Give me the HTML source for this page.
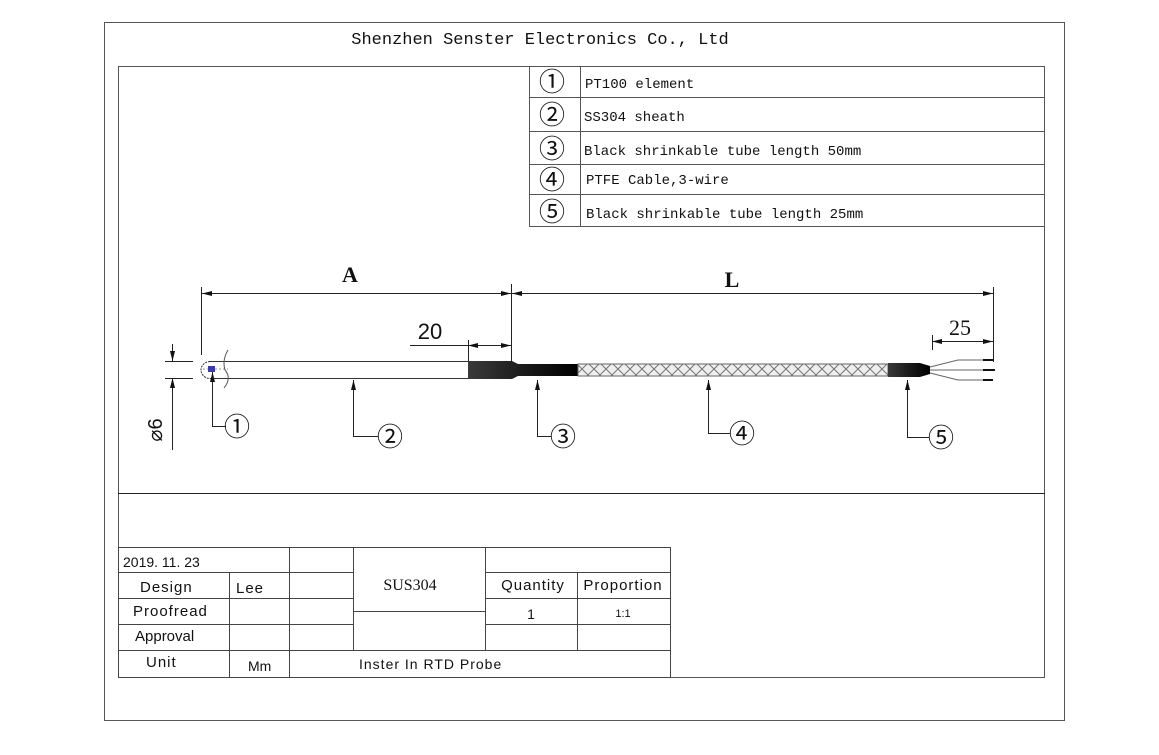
<!DOCTYPE html>
<html><head><meta charset="utf-8"><style>
html,body{margin:0;padding:0;background:#fff;}
svg text{font-family:"Liberation Mono","Noto Sans CJK SC",monospace;fill:#111;}
.s{font-family:"Liberation Sans","Noto Sans CJK SC",sans-serif !important;}
.sf{font-family:"Liberation Serif","Noto Serif CJK SC",serif !important;}
.c{font-family:"Noto Sans CJK SC",sans-serif !important;}
</style></head><body>
<svg width="1159" height="750" viewBox="0 0 1159 750" xmlns="http://www.w3.org/2000/svg">
<defs>
<marker id="ar" viewBox="0 0 10 6" refX="10" refY="3" markerWidth="10" markerHeight="6" orient="auto-start-reverse" markerUnits="userSpaceOnUse"><path d="M0,0.5 L10,3 L0,5.5z" fill="#111"/></marker>
<pattern id="br" width="12" height="12" patternUnits="userSpaceOnUse" y="363"><rect width="12" height="12" fill="#eee"/><path d="M0,0 L6,6 L12,0 M0,12 L6,6 L12,12" stroke="#777" stroke-width="1" fill="none"/></pattern>
<linearGradient id="bk" x1="0" x2="1"><stop offset="0" stop-color="#3a3a3a"/><stop offset="0.6" stop-color="#151515"/><stop offset="1" stop-color="#000"/></linearGradient>
</defs>
<g fill="none" stroke="#555" stroke-width="1">
<rect x="104.5" y="22.5" width="960" height="698"/>
<rect x="118.5" y="66.5" width="926" height="611"/>
<line x1="118" y1="493.5" x2="1045" y2="493.5" stroke="#222"/>
</g>
<text x="540" y="44" font-size="17" text-anchor="middle">Shenzhen Senster Electronics Co., Ltd</text>
<g stroke="#555" fill="none">
<rect x="529.5" y="66.5" width="515" height="160"/>
<line x1="580.5" y1="66" x2="580.5" y2="227"/>
<line x1="529" y1="97.5" x2="1045" y2="97.5"/>
<line x1="529" y1="131.5" x2="1045" y2="131.5"/>
<line x1="529" y1="164.5" x2="1045" y2="164.5"/>
<line x1="529" y1="194.5" x2="1045" y2="194.5"/>
</g>
<g font-size="26" text-anchor="middle">
<text x="552" y="91" class="c">①</text><text x="552" y="124" class="c">②</text><text x="552" y="158" class="c">③</text><text x="552" y="189" class="c">④</text><text x="552" y="221" class="c">⑤</text>
</g>
<g font-size="14">
<text x="585" y="88">PT100 element</text>
<text x="584" y="121">SS304 sheath</text>
<text x="584" y="155">Black shrinkable tube length 50mm</text>
<text x="586" y="184">PTFE Cable,3-wire</text>
<text x="586" y="218">Black shrinkable tube length 25mm</text>
</g>
<g stroke="#222" stroke-width="1" fill="none">
<line x1="201.5" y1="287" x2="201.5" y2="355"/>
<line x1="511.5" y1="284" x2="511.5" y2="366"/>
<line x1="993.5" y1="287" x2="993.5" y2="362"/>
<line x1="202" y1="293.5" x2="511" y2="293.5" marker-start="url(#ar)" marker-end="url(#ar)"/>
<line x1="512" y1="293.5" x2="993" y2="293.5" marker-start="url(#ar)" marker-end="url(#ar)"/>
<line x1="410" y1="345.5" x2="468" y2="345.5"/>
<line x1="468" y1="345.5" x2="511" y2="345.5" marker-start="url(#ar)" marker-end="url(#ar)"/>
<line x1="468.5" y1="340" x2="468.5" y2="361"/>
<line x1="932.5" y1="335" x2="932.5" y2="350"/>
<line x1="932" y1="341.5" x2="993" y2="341.5" marker-start="url(#ar)" marker-end="url(#ar)"/>
<line x1="165" y1="361.5" x2="193" y2="361.5"/>
<line x1="165" y1="378.5" x2="193" y2="378.5"/>
<line x1="172.5" y1="344" x2="172.5" y2="361" marker-end="url(#ar)"/>
<line x1="172.5" y1="450" x2="172.5" y2="378" marker-end="url(#ar)"/>
</g>
<text x="350" y="282" font-size="22" class="sf" text-anchor="middle" font-weight="bold">A</text>
<text x="732" y="287" font-size="22" class="sf" text-anchor="middle" font-weight="bold">L</text>
<text x="430" y="339" font-size="22" class="s" text-anchor="middle">20</text>
<text x="960" y="335" font-size="22" class="sf" text-anchor="middle">25</text>
<text transform="translate(162,430) rotate(-90)" font-size="20" class="s" text-anchor="middle">⌀6</text>
<path d="M210,361.5 L468,361.5 M210,378.5 L468,378.5" stroke="#333" fill="none"/>
<path d="M210,361.5 A9,8.5 0 0 0 210,378.5" stroke="#333" fill="none" stroke-dasharray="2,1"/>
<path d="M203,369 L228,369" stroke="#999" stroke-dasharray="2,2"/>
<rect x="208" y="366" width="7" height="6" fill="#3b3bb0"/>
<path d="M228,350 Q222,360 225,370 Q232,378 224,388" stroke="#555" fill="none"/>
<path d="M468,361 L512,361 L518,364 L578,364 L578,376 L518,376 L512,379 L468,379z" fill="url(#bk)"/>
<rect x="578" y="364" width="310" height="12" fill="url(#br)" stroke="#666"/>
<path d="M888,363 L920,363 L930,366 L930,374 L920,377 L888,377z" fill="url(#bk)"/>
<g stroke="#666" fill="none">
<path d="M930,367 L958,360 L985,360"/><path d="M930,370 L985,370"/><path d="M930,373 L958,380 L985,380"/>
</g>
<g stroke="#111" stroke-width="2"><line x1="983" y1="360" x2="993" y2="360"/><line x1="983" y1="370" x2="995" y2="370"/><line x1="983" y1="380" x2="993" y2="380"/></g>
<g stroke="#222" fill="none">
<path d="M212.5,426 L212.5,372" marker-end="url(#ar)"/><path d="M212,426.5 L226,426.5"/>
<path d="M353.5,436 L353.5,380" marker-end="url(#ar)"/><path d="M353,436.5 L378,436.5"/>
<path d="M537.5,436 L537.5,380" marker-end="url(#ar)"/><path d="M537,436.5 L551,436.5"/>
<path d="M708.5,433 L708.5,380" marker-end="url(#ar)"/><path d="M708,433.5 L730,433.5"/>
<path d="M907.5,437 L907.5,380" marker-end="url(#ar)"/><path d="M907,437.5 L929,437.5"/>
</g>
<g font-size="26" text-anchor="middle">
<text x="237" y="436" class="c">①</text><text x="390" y="446" class="c">②</text><text x="563" y="446" class="c">③</text><text x="742" y="443" class="c">④</text><text x="941" y="447" class="c">⑤</text>
</g>
<g stroke="#444" fill="none">
<rect x="118.5" y="547.5" width="552" height="130"/>
<line x1="118" y1="572.5" x2="353" y2="572.5"/><line x1="485" y1="572.5" x2="670" y2="572.5"/>
<line x1="118" y1="598.5" x2="353" y2="598.5"/><line x1="485" y1="598.5" x2="670" y2="598.5"/>
<line x1="118" y1="624.5" x2="353" y2="624.5"/><line x1="485" y1="624.5" x2="670" y2="624.5"/>
<line x1="118" y1="650.5" x2="670" y2="650.5"/>
<line x1="353" y1="611.5" x2="485" y2="611.5"/>
<line x1="229.5" y1="572" x2="229.5" y2="677"/>
<line x1="289.5" y1="547" x2="289.5" y2="677"/>
<line x1="353.5" y1="547" x2="353.5" y2="650"/>
<line x1="485.5" y1="547" x2="485.5" y2="650"/>
<line x1="577.5" y1="572" x2="577.5" y2="650"/>
</g>
<g font-size="15" class="s">
<text x="123" y="567" font-size="14" class="s">2019. 11. 23</text>
<text x="140" y="592" class="s" letter-spacing="1">Design</text>
<text x="236" y="593" class="s" letter-spacing="1">Lee</text>
<text x="133" y="616" class="s" letter-spacing="1">Proofread</text>
<text x="135" y="641" class="s">Approval</text>
<text x="146" y="667" class="s" letter-spacing="1">Unit</text>
<text x="248" y="671" font-size="14" class="s">Mm</text>
<text x="359" y="669" font-size="14" class="s" letter-spacing="1">Inster In RTD Probe</text>
<text x="410" y="590" text-anchor="middle" font-size="16" class="sf">SUS304</text>
<text x="533" y="590" text-anchor="middle" class="s" letter-spacing="1">Quantity</text>
<text x="623" y="590" text-anchor="middle" class="s" letter-spacing="1">Proportion</text>
<text x="531" y="619" text-anchor="middle" font-size="14" class="s">1</text>
<text x="623" y="617" text-anchor="middle" font-size="11" class="s">1:1</text>
</g>
</svg>
</body></html>
